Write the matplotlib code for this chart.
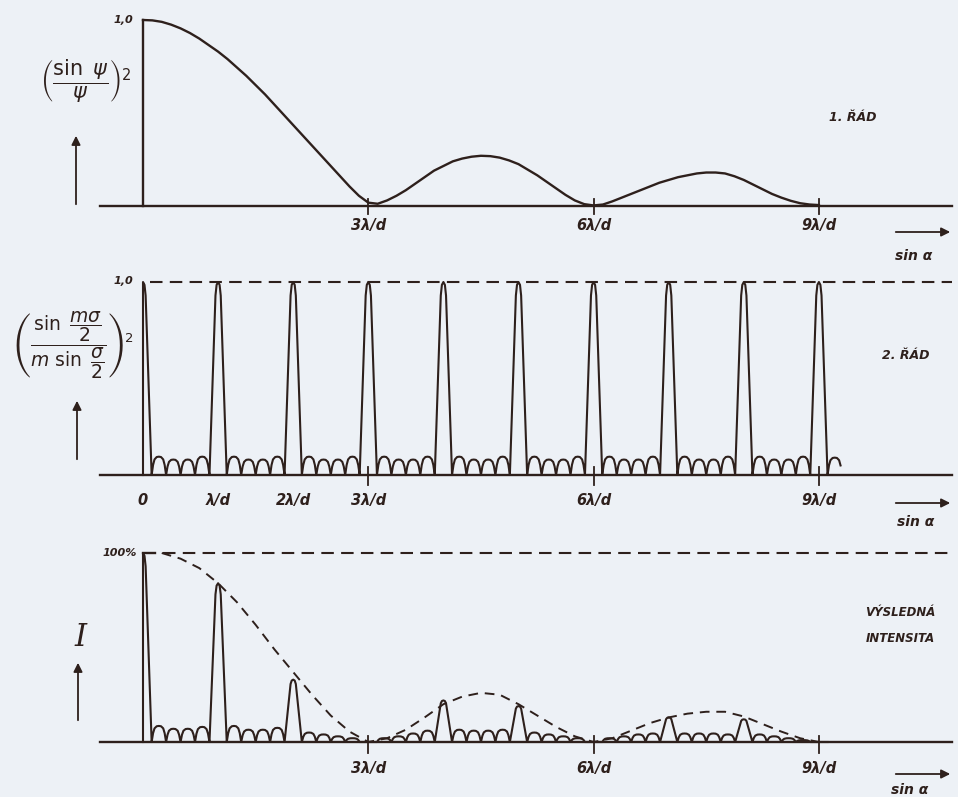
import matplotlib.pyplot as plt

# hodnoty, x v jednotkách lambda/d
rad1_x = [i / 8 for i in range(73)]
rad1_y = [1.0, 0.998, 0.99, 0.975, 0.955, 0.93, 0.9, 0.865,
          0.83, 0.79, 0.745, 0.7, 0.65, 0.6, 0.545, 0.49,
          0.435, 0.38, 0.325, 0.27, 0.215, 0.16, 0.105, 0.055,
          0.018, 0.012, 0.03, 0.055, 0.085, 0.12, 0.155, 0.19,
          0.215, 0.24, 0.255, 0.265, 0.27, 0.268, 0.26, 0.245,
          0.225, 0.195, 0.165, 0.13, 0.095, 0.06, 0.03, 0.01,
          0.003, 0.008, 0.025, 0.045, 0.065, 0.085, 0.105, 0.125,
          0.14, 0.155, 0.165, 0.175, 0.18, 0.18, 0.175, 0.16,
          0.14, 0.115, 0.09, 0.065, 0.045, 0.028, 0.015, 0.008, 0.005]
vysl_x = [i / 4 for i in range(37)]
vysl_env_y = [1.0, 1.0, 0.97, 0.92, 0.84, 0.74, 0.62, 0.49, 0.37, 0.25, 0.14, 0.055, 0.0,
              0.02, 0.065, 0.13, 0.20, 0.24, 0.26, 0.25, 0.2, 0.14, 0.08, 0.03, 0.0,
              0.02, 0.06, 0.10, 0.13, 0.15, 0.16, 0.16, 0.135, 0.095, 0.055, 0.02, 0.0]

rad2_peaks = [1.0, 1.0, 1.0, 1.0, 1.0, 1.0, 1.0, 1.0, 1.0, 1.0]
rad2_side = [[0.095, 0.08, 0.08, 0.095]] * 9
vysl_peaks = [1.0, 0.84, 0.33, 0.0, 0.22, 0.19, 0.0, 0.13, 0.12, 0.0]
vysl_side = [[0.085, 0.07, 0.07, 0.08], [0.085, 0.065, 0.065, 0.075],
             [0.05, 0.04, 0.03, 0.02], [0.02, 0.03, 0.045, 0.06],
             [0.065, 0.06, 0.06, 0.065], [0.05, 0.04, 0.03, 0.02],
             [0.02, 0.03, 0.04, 0.045], [0.045, 0.045, 0.045, 0.04],
             [0.04, 0.03, 0.02, 0.01]]

ticks_1 = [3, 6, 9]
labels_1 = ['3λ/d', '6λ/d', '9λ/d']
ticks_2 = [0, 1, 2, 3, 6, 9]
labels_2 = ['0', 'λ/d', '2λ/d', '3λ/d', '6λ/d', '9λ/d']

# tvar hlavního maxima a vedlejšího maxima (odečteno z kresby)
peak_dx = [-0.115, -0.035, -0.02, 0.0, 0.02, 0.035, 0.115]
peak_tvar = [0, 0.93, 0.985, 1.0, 0.985, 0.93, 0]
bump_dx = [0, 0.1, 0.2, 0.35, 0.5, 0.65, 0.8, 0.9, 1.0]
bump_tvar = [0, 0.55, 0.85, 0.98, 1.0, 0.98, 0.85, 0.55, 0]

ink = '#2e201c'
bg = '#edf1f6'
X0, X1 = -143 / 75.1, (958 - 143) / 75.1


def mrizka(peaks, side, konec=None):
    xs, ys = [0.0, 0.0], [0.0, peaks[0]]
    w = (1 - 2 * 0.115) / 4
    for n, h in enumerate(peaks):
        for dx, t in zip(peak_dx, peak_tvar):
            if n == 0 and dx <= 0:
                continue
            xs.append(n + dx)
            ys.append(h * t)
        if n < len(side):
            for k, b in enumerate(side[n]):
                x0 = n + 0.115 + k * w
                for f, t in zip(bump_dx, bump_tvar):
                    xs.append(x0 + f * w)
                    ys.append(b * t)
    if konec is not None:
        x0 = len(peaks) - 1 + 0.115
        for f, t in zip(bump_dx[:8], bump_tvar[:8]):
            xs.append(x0 + f * w)
            ys.append(konec * t)
    return xs, ys


fig = plt.figure(figsize=(9.58, 7.97), dpi=100)
fig.patch.set_facecolor(bg)

def panel(top_px, bot_px, base_px, unit_px):
    ax = fig.add_axes([0, 1 - bot_px / 797, 1, (bot_px - top_px) / 797])
    ax.set_xlim(X0, X1)
    ax.set_ylim((base_px - bot_px) / unit_px, (base_px - top_px) / unit_px)
    ax.axis('off')
    ax.plot([-0.57, 10.77], [0, 0], color=ink, lw=1.7)
    return ax

txt = dict(color=ink, fontstyle='italic', fontweight='bold', ha='center', va='center')

# 1. řád
ax1 = panel(0, 270, 206, 186)
ax1.plot(rad1_x, rad1_y, color=ink, lw=1.7, solid_joinstyle='round')
ax1.plot([0, 0], [0, 1], color=ink, lw=1.7)
for t, s in zip(ticks_1, labels_1):
    ax1.plot([t, t], [-0.045, 0.035], color=ink, lw=1.3)
    ax1.text(t, -0.105, s, fontsize=10.5, **txt)

# 2. řád
ax2 = panel(270, 530, 475, 193)
x2, y2 = mrizka(rad2_peaks, rad2_side, konec=0.09)
ax2.plot(x2, y2, color=ink, lw=1.5)
ax2.plot([0.09, 10.77], [1, 1], color=ink, lw=1.5, dashes=(6, 3.5))
for t in [3, 6, 9]:
    ax2.plot([t, t], [-0.05, 0.04], color=ink, lw=1.3)
for t, s in zip(ticks_2, labels_2):
    ax2.text(t, -0.13, s, fontsize=10.5, **txt)

# výsledná intenzita
ax3 = panel(530, 797, 742, 189)
x3, y3 = mrizka(vysl_peaks, vysl_side)
ax3.plot(x3, y3, color=ink, lw=1.5)
ax3.plot([0, 0.16], [1, 1], color=ink, lw=1.7)
ax3.plot([0.27, 10.77], [1, 1], color=ink, lw=1.5, dashes=(6, 3.5))
ax3.plot(vysl_x[1:], vysl_env_y[1:], color=ink, lw=1.4, dashes=(5, 3.5))
for t, s in zip(ticks_1, labels_1):
    ax3.plot([t, t], [-0.06, 0.03], color=ink, lw=1.3)
    ax3.text(t, -0.14, s, fontsize=10.5, **txt)

# popisky a šipky v pixelech
ov = fig.add_axes([0, 0, 1, 1])
ov.set_xlim(0, 958)
ov.set_ylim(797, 0)
ov.axis('off')
ov.patch.set_alpha(0)

arrow = dict(arrowstyle='-|>', color=ink, lw=1.3, mutation_scale=13)
for x, y0, y1 in [(76, 207, 133), (77, 462, 398), (78, 723, 660)]:
    ov.annotate('', xy=(x, y1), xytext=(x, y0), arrowprops=arrow)
for y in [232, 503, 774]:
    ov.annotate('', xy=(953, y), xytext=(893, y), arrowprops=arrow)

ov.text(914, 256, 'sin α', fontsize=10, **txt)
ov.text(916, 522, 'sin α', fontsize=10, **txt)
ov.text(910, 790, 'sin α', fontsize=10, **txt)
ov.text(853, 117, '1. ŘÁD', fontsize=9, **txt)
ov.text(906, 355, '2. ŘÁD', fontsize=9, **txt)
ov.text(900, 613, 'VÝSLEDNÁ', fontsize=8.5, **txt)
ov.text(900, 638, 'INTENSITA', fontsize=8.5, **txt)
ov.text(123, 20, '1,0', fontsize=8, **txt)
ov.text(123, 281, '1,0', fontsize=8, **txt)
ov.text(120, 553, '100%', fontsize=8, **txt)

ov.text(86, 80, r'$\left(\dfrac{\sin\ \psi}{\psi}\right)^2$', fontsize=15, color=ink,
        ha='center', va='center')
ov.text(74, 345, r'$\left(\dfrac{\sin\ \dfrac{m\sigma}{2}}{m\ \sin\ \dfrac{\sigma}{2}}\right)^2$',
        fontsize=13.5, color=ink, ha='center', va='center')
ov.text(80, 637, 'I', fontsize=22, color=ink, family='DejaVu Serif', fontstyle='italic',
        ha='center', va='center')

fig.savefig('out.png', dpi=100, facecolor=bg)
